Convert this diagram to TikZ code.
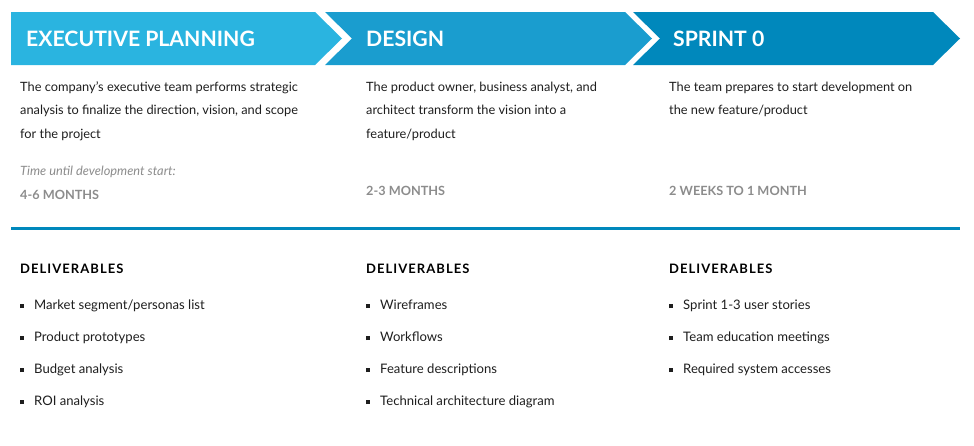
\documentclass[tikz,border=0pt]{standalone}
\usepackage{fontspec}
\setmainfont{Lato}
\newfontfamily\spacedfont{Lato}[LetterSpace=8]
\usetikzlibrary{positioning}

\definecolor{phaseA}{HTML}{2AB4E0}
\definecolor{phaseB}{HTML}{1A9DCF}
\definecolor{phaseC}{HTML}{0088BC}
\definecolor{timegray}{HTML}{8C8C8C}
\definecolor{bodyink}{HTML}{1E1E1E}
\newcommand{\sqbul}{\rule[1.5pt]{4pt}{4pt}\hspace{10pt}}

\begin{document}
\begin{tikzpicture}[
  x=1pt, y=-1pt,
  every node/.style={inner sep=0pt, anchor=base west},
  title/.style={font=\fontsize{21.2}{21.2}\selectfont\bfseries, text=white},
  desc/.style={font=\fontsize{12.8}{23.5}\selectfont, align=left, text=bodyink},
  when/.style={font=\fontsize{12.8}{16}\selectfont\itshape, text=timegray},
  span/.style={font=\fontsize{12.7}{16}\selectfont\bfseries, text=timegray},
  head/.style={font=\fontsize{13}{16}\selectfont\spacedfont\bfseries},
  items/.style={font=\fontsize{13.1}{32}\selectfont, align=left, text=bodyink}
]
  \useasboundingbox (0,0) rectangle (974,445);

  % banner
  \fill[phaseA] (11,12) -- (315,12) -- (342,38.5) -- (315,65) -- (11,65) -- cycle;
  \fill[phaseB] (325,12) -- (625,12) -- (652,38.5) -- (625,65) -- (325,65) -- (352,38.5) -- cycle;
  \fill[phaseC] (633,12) -- (933,12) -- (960,38.5) -- (933,65) -- (633,65) -- (660,38.5) -- cycle;

  \node[title] (exec) at (26,46) {EXECUTIVE PLANNING};
  \node[title] (design) at (366,46) {DESIGN};
  \node[title] (sprint) at (673,46) {SPRINT 0};

  % descriptions (base = last line)
  \node[desc] (execdesc) at (20,138) {The company’s executive team performs strategic\\analysis to finalize the direction, vision, and scope\\for the project};
  \node[desc] (designdesc) at (366,138) {The product owner, business analyst, and\\architect transform the vision into a\\feature/product};
  \node[desc] (sprintdesc) at (669,114.5) {The team prepares to start development on\\the new feature/product};

  \node[when] (execwhen) at (20,175.5) {Time until development start:};
  \node[span] (execspan) at (20,199) {4-6 MONTHS};
  \node[span] (designspan) at (366,195) {2-3 MONTHS};
  \node[span] (sprintspan) at (669,195) {2 WEEKS TO 1 MONTH};

  % divider
  \coordinate (ruleL) at (11,228.5);
  \coordinate (ruleR) at (960,228.5);
  \draw[phaseC, line width=3pt] (ruleL) -- (ruleR);

  % deliverables
  \node[head] (exechead) at (20,273) {DELIVERABLES};
  \node[head] (designhead) at (366,273) {DELIVERABLES};
  \node[head] (sprinthead) at (669,273) {DELIVERABLES};

  \node[items] (execlist) at (20,405.5) {\sqbul Market segment/personas list\\\sqbul Product prototypes\\\sqbul Budget analysis\\\sqbul ROI analysis};
  \node[items] (designlist) at (366,405.5) {\sqbul Wireframes\\\sqbul Workflows\\\sqbul Feature descriptions\\\sqbul Technical architecture diagram};
  \node[items] (sprintlist) at (669,373.5) {\sqbul Sprint 1-3 user stories\\\sqbul Team education meetings\\\sqbul Required system accesses};
\end{tikzpicture}
\end{document}
